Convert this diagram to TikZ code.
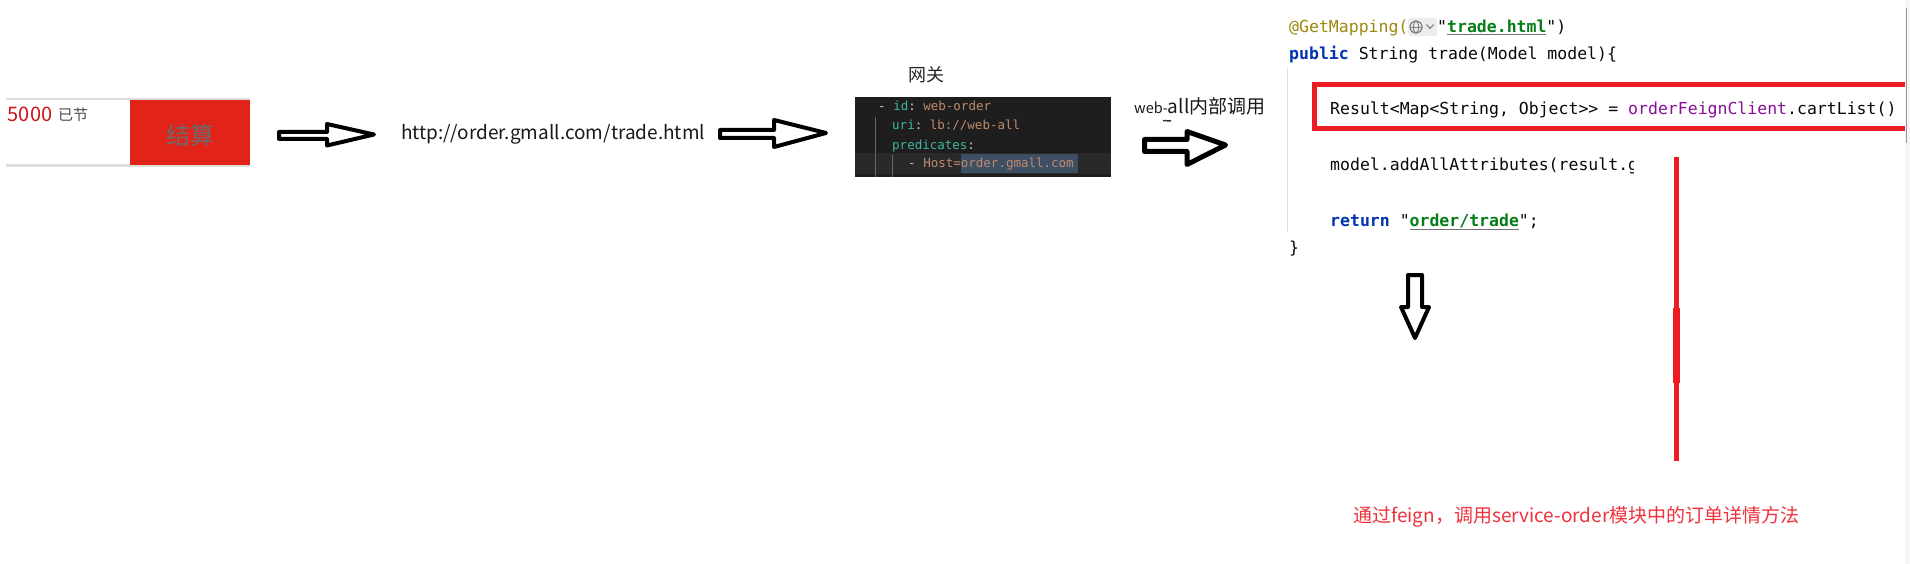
\documentclass[tikz,border=0pt]{standalone}
\usepackage{fontspec}
\setmainfont{Noto Sans CJK SC}
\setmonofont{DejaVu Sans Mono}
\definecolor{jdred}{HTML}{E2231A}
\definecolor{pricered}{HTML}{D0121B}
\definecolor{mspred}{HTML}{ED1C24}
\definecolor{notered}{HTML}{F0323C}
\definecolor{ideback}{HTML}{1E1E1E}
\definecolor{ideline}{HTML}{292929}
\definecolor{ymlkey}{HTML}{3FB8A3}
\definecolor{ymlval}{HTML}{C08B6E}
\definecolor{ymlsel}{HTML}{3D4F63}
\definecolor{ymlpun}{HTML}{C8C8C8}
\definecolor{kwblue}{HTML}{0033B3}
\definecolor{annot}{HTML}{9E880D}
\definecolor{strgreen}{HTML}{067D17}
\definecolor{fieldpurple}{HTML}{871094}
\definecolor{codeblack}{HTML}{080808}
\definecolor{ulgray}{HTML}{707070}
\definecolor{softgray}{HTML}{DDDDDD}
\tikzset{
  txt/.style={inner sep=0pt, anchor=base west},
  ctxt/.style={inner sep=0pt, anchor=center},
  idecode/.style={txt, font=\ttfamily\fontsize{16.5}{16.5}\selectfont, text=codeblack},
  ymlcode/.style={txt, font=\ttfamily\fontsize{12.5}{12.5}\selectfont, text=ymlpun},
  blockarrow/.style={draw=black, line width=4pt, line join=round, fill=white},
}
\begin{document}
\begin{tikzpicture}[x=1pt, y=-1pt]
\useasboundingbox (0,0) rectangle (1910,564);
\fill[white] (0,0) rectangle (1910,564);

% ---- checkout bar ----
\draw[softgray, line width=2pt] (6,99) -- (250,99);
\draw[softgray, line width=3pt] (6,166) -- (250,166);
\fill[jdred] (130,100) rectangle (250,165);
\node[ctxt, text=pricered, font=\fontsize{20}{20}\selectfont] (price) at (30,114) {5000};
\node[ctxt, text=black!70, font=\fontsize{15}{15}\selectfont] (saved) at (73,115) {已节};
\node[ctxt, text=black!58, font=\fontsize{24}{24}\selectfont] (pay) at (190,135) {结算};

% ---- arrow 1 ----
\draw[blockarrow] (279,132) -- (327,132) -- (327,124) -- (374,134.5) -- (327,145.5) -- (327,139) -- (279,139) -- cycle;

% ---- url ----
\node[ctxt, text=black!90, font=\fontsize{19}{19}\selectfont] (url) at (553,134) {http://order.gmall.com/trade.html};

% ---- arrow 2 ----
\draw[blockarrow] (720,130) -- (774,130) -- (774,120) -- (826,133) -- (774,147) -- (774,138) -- (720,138) -- cycle;

% ---- gateway ----
\node[ctxt, text=black!85, font=\fontsize{18}{18}\selectfont] (gw) at (926,75) {网关};
\fill[ideback] (855,97) rectangle (1111,177);
\fill[ideline] (855,153) rectangle (1111,174);
\fill[ymlsel] (961,154) rectangle (1078,173);
\draw[black!60, line width=0.8pt] (875.5,117) -- (875.5,177);
\draw[black!60, line width=0.8pt] (892.5,155) -- (892.5,177);
\node[ymlcode] (y1) at (878,110.5) {- \textcolor{ymlkey}{id}: \textcolor{ymlval}{web-order}};
\node[ymlcode] (y2) at (892,129.5) {\textcolor{ymlkey}{uri}: \textcolor{ymlval}{lb://web-all}};
\node[ymlcode] (y3) at (892,149.5) {\textcolor{ymlkey}{predicates}:};
\node[ymlcode] (y4) at (908,167.5) {- \textcolor{ymlval}{Host=order.gmall.com}};

% ---- internal call ----
\node[txt, text=black!90] (call) at (1134,114) {\fontsize{14.5}{14.5}\selectfont web-\fontsize{19}{19}\selectfont all内部调用};
\draw[black!80, line width=1.5pt] (1163,120.5) -- (1171,121);

% ---- arrow 3 ----
\draw[blockarrow, line width=5pt] (1144.5,139.5) -- (1187,139.5) -- (1187,131.5) -- (1225.5,145) -- (1187,164.5) -- (1187,151.5) -- (1144.5,151.5) -- cycle;

% ---- IDE code ----
\draw[black!12, line width=1pt] (1287,68) -- (1287,232);
\node[idecode, text=annot] (c1a) at (1289,33) {@GetMapping(};
\fill[black!7, rounded corners=3pt] (1408,18) rectangle (1437,36);
\draw[black!50, line width=1.2pt] (1416,27) circle (6);
\draw[black!50, line width=0.9pt] (1416,21) arc[start angle=90, end angle=270, x radius=2.6, y radius=-6];
\draw[black!50, line width=0.9pt] (1416,21) arc[start angle=90, end angle=-90, x radius=2.6, y radius=-6];
\draw[black!50, line width=0.9pt] (1410,27) -- (1422,27);
\draw[black!50, line width=1.1pt] (1426.5,24.5) -- (1430,28.5) -- (1433.5,24.5);
\node[idecode] (c1b) at (1437,33) {"\textcolor{ulgray}{\underline{\textcolor{strgreen}{\bfseries trade.html}}}")};
\node[idecode] (c2) at (1289,60) {\textcolor{kwblue}{\bfseries public} String trade(Model model)\{};
\node[idecode] (c3) at (1330,115) {Result<Map<String, Object>{}> = \textcolor{fieldpurple}{orderFeignClient}.cartList()};
\begin{scope}
\clip (1300,140) rectangle (1633,190);
\node[idecode] (c4) at (1330,171) {model.addAllAttributes(result.g};
\end{scope}
\node[idecode] (c5) at (1330,226) {\textcolor{kwblue}{\bfseries return} "\textcolor{ulgray}{\underline{\textcolor{strgreen}{\bfseries order/trade}}}";};
\node[idecode] (c6) at (1289,253) {\}};

% red highlight box (cut at the right edge)
\draw[mspred, line width=5pt] (1905,84.5) -- (1314.5,84.5) -- (1314.5,128.5) -- (1905,128.5);

% scrollbar strip
\fill[black!4] (1905,0) rectangle (1910,564);
\draw[black!40, line width=1.5pt] (1906.5,8) -- (1906.5,143);

% red vertical line
\draw[mspred, line width=5pt] (1676,157) -- (1676,461);
\draw[mspred, line width=7pt] (1676.5,308) -- (1676.5,383);

% down arrow
\draw[blockarrow] (1408,275) -- (1422,275) -- (1422,307) -- (1429,307) -- (1415,338) -- (1401,307) -- (1408,307) -- cycle;

% note
\node[txt, text=notered, font=\fontsize{19}{19}\selectfont] (note) at (1353,522) {通过feign，调用service-order模块中的订单详情方法};
\end{tikzpicture}
\end{document}
